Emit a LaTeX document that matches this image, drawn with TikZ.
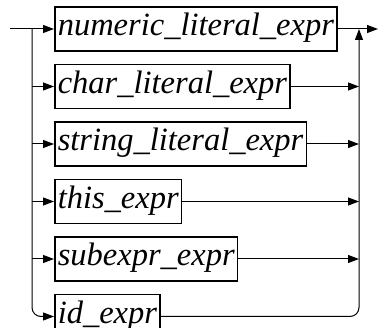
\documentclass[tikz,border=0pt]{standalone}
\usepackage{fontspec}
\setmainfont{Liberation Serif}
\usepackage{tikz}
\usetikzlibrary{positioning, arrows.meta}
\tikzstyle{lit} = [rectangle, draw=black, line width=1.5pt, minimum height=44pt, inner xsep=3pt, inner ysep=0pt, text height=23pt, text depth=9pt, font=\itshape\fontsize{32.5}{36}\selectfont]
\tikzstyle{arrow} = [line width=1pt,-{Triangle[length=11pt,width=8pt]}]

\begin{document}
\begin{tikzpicture}
        \useasboundingbox (0pt,0pt) rectangle (380pt,-328pt);
        \coordinate (start) at (10pt,-29pt);
        \coordinate (split) at (32pt,-29pt);
        \coordinate (join) at (359pt,-29pt);
        \coordinate (exit) at (378pt,-29pt);
        \node (numeric) [lit, anchor=west] at (54pt,-29pt) {numeric\_literal\_expr};
        \node (charlit) [lit, below=12pt of numeric.south west, anchor=north west] {char\_literal\_expr};
        \node (stringlit) [lit, below=12pt of charlit.south west, anchor=north west] {string\_literal\_expr};
        \node (this) [lit, below=12pt of stringlit.south west, anchor=north west] {this\_expr};
        \node (subexpr) [lit, below=12pt of this.south west, anchor=north west] {subexpr\_expr};
        \node (id) [lit, below=12pt of subexpr.south west, anchor=north west] {id\_expr};
        % entry and exit
        \draw [arrow] (start) -- (numeric);
        \draw [arrow] (numeric) -- (exit);
        % left branches
        \draw [arrow] (split |- charlit) -- (charlit);
        \draw [arrow] (split |- stringlit) -- (stringlit);
        \draw [arrow] (split |- this) -- (this);
        \draw [arrow] (split |- subexpr) -- (subexpr);
        \draw [arrow, rounded corners=9pt] (split) |- (id);
        % right branches
        \draw [arrow] (charlit) -- (charlit -| join);
        \draw [arrow] (stringlit) -- (stringlit -| join);
        \draw [arrow] (this) -- (this -| join);
        \draw [arrow] (subexpr) -- (subexpr -| join);
        \draw [arrow, rounded corners=9pt] (id) -| (join);
      \end{tikzpicture}
\end{document}
